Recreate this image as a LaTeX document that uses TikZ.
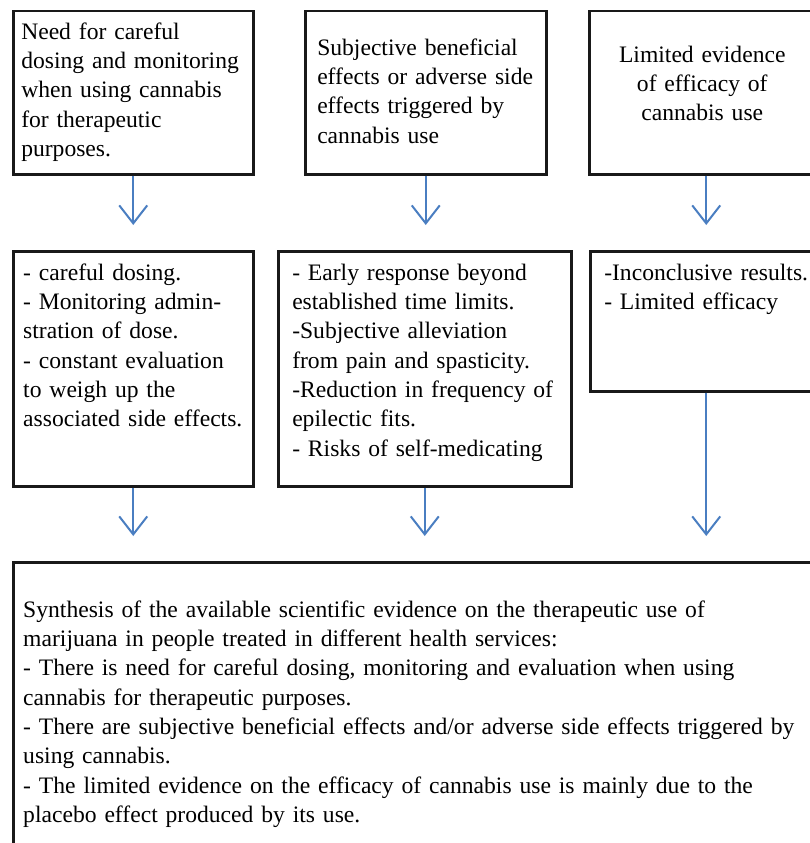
\documentclass[tikz,border=0pt]{standalone}
\usepackage{fontspec}
\setmainfont{Liberation Serif}
\usepackage{tikz}
\usetikzlibrary{calc,positioning,arrows.meta}
\definecolor{flowblue}{RGB}{74,126,193}
\tikzstyle{flow} = [draw=flowblue, line width=2pt, shorten >=25pt,
                    -{Straight Barb[length=18pt, width=28pt, line width=2pt]}]

\begin{document}
\begin{tikzpicture}[x=1pt, y=-1pt,
			font=\fontsize{23.6pt}{29.3pt}\selectfont,
			panel/.style={draw=black!90, line width=2.5pt, anchor=north west, inner ysep=0pt, align=left},
		]

		\clip (0,0) rectangle (810,843);

		% first row
		\node[panel, inner xsep=8pt, text width=224pt, text height=28pt, text depth=135pt] (need) at (12,10)
			{Need for careful\\ dosing and monitoring\\ when using cannabis\\ for therapeutic\\ purposes.};
		\node[panel, inner xsep=12pt, text width=217pt, text height=44pt, text depth=119pt] (effects) at (304,10)
			{Subjective beneficial\\ effects or adverse side\\ effects triggered by\\ cannabis use};
		\node[panel, align=center, inner xsep=10pt, text width=206pt, text height=51pt, text depth=112pt] (evidence) at (588,10)
			{Limited evidence\\ of efficacy of\\ cannabis use};

		% second row
		\node[panel, inner xsep=10pt, text width=220pt, text height=29pt, text depth=206pt] (dosing) at (12,250)
			{- careful dosing.\\ - Monitoring admin-\\ stration of dose.\\ - constant evaluation\\ to weigh up the\\ associated side effects.};
		\node[panel, inner xsep=14pt, text width=265pt, text height=29pt, text depth=206pt] (response) at (277,250)
			{- Early response beyond\\ established time limits.\\ -Subjective alleviation\\ from pain and spasticity.\\ -Reduction in frequency of\\ epilectic fits.\\ - Risks of self-medicating};
		\node[panel, inner xsep=14pt, text width=212pt, text height=29pt, text depth=111pt] (results) at (589,250)
			{-Inconclusive results.\\ - Limited efficacy};

		% synthesis
		\node[panel, inner xsep=10pt, text width=810pt, text height=55pt, text depth=265pt] (synthesis) at (12,561)
			{Synthesis of the available scientific evidence on the therapeutic use of\\ marijuana in people treated in different health services:\\ - There is need for careful dosing, monitoring and evaluation when using\\ cannabis for therapeutic purposes.\\ - There are subjective beneficial effects and/or adverse side effects triggered by\\ using cannabis.\\ - The limited evidence on the efficacy of cannabis use is mainly due to the\\ placebo effect produced by its use.};

		% arrows
		\draw[flow] (need.south) -- (need.south |- dosing.north);
		\draw[flow] (effects.south) -- (effects.south |- response.north);
		\draw[flow] ([xshift=4pt]evidence.south) -- ([xshift=4pt]evidence.south |- results.north);
		\draw[flow] (dosing.south) -- (dosing.south |- synthesis.north);
		\draw[flow] (response.south) -- (response.south |- synthesis.north);
		\draw[flow] (results.south -| evidence.south) ++(4pt,0) coordinate (drop) -- (drop |- synthesis.north);
	\end{tikzpicture}
\end{document}
